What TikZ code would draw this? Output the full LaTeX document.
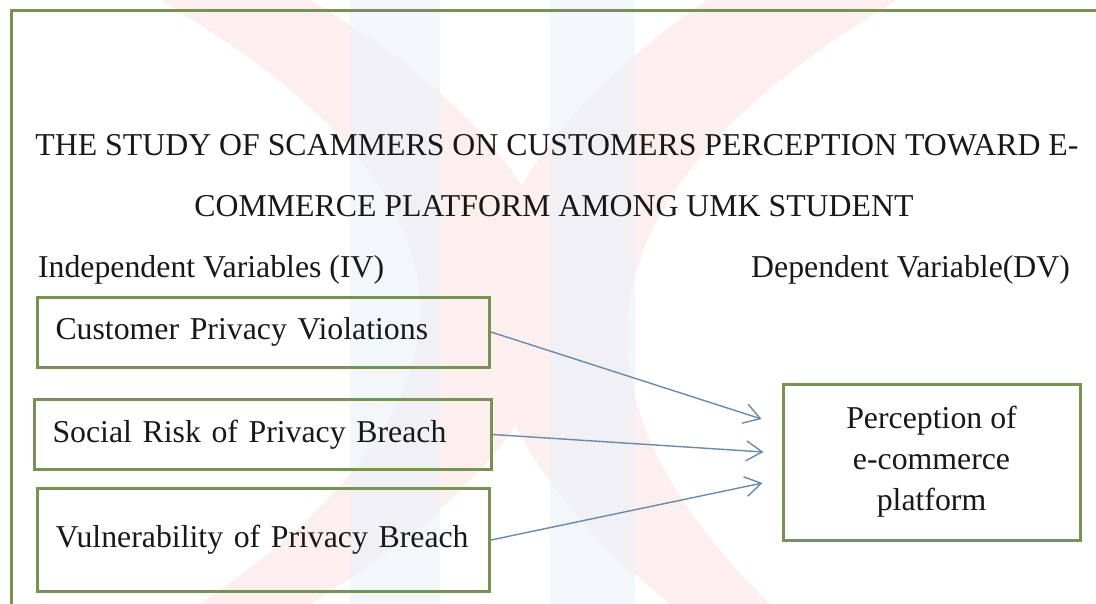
\documentclass[tikz,border=0pt]{standalone}
\usepackage{fontspec}
\setmainfont{Liberation Serif}
\usetikzlibrary{positioning,arrows.meta,calc}

\definecolor{framegreen}{RGB}{118,146,84}
\definecolor{linkblue}{RGB}{104,138,172}
\definecolor{markpink}{RGB}{253,239,238}
\definecolor{markblue}{RGB}{236,243,248}
\definecolor{inkgray}{RGB}{24,24,24}

\begin{document}
\begin{tikzpicture}[
    x=0.5pt, y=-0.5pt,
    font=\fontsize{15.9}{20}\selectfont,
    text=inkgray,
    ivbox/.style={
        draw=framegreen,
        line width=1.5pt,
        anchor=west,
        text width=208pt,
        inner xsep=9pt,
        minimum height=35pt,
        align=left
    },
    dvbox/.style={
        draw=framegreen,
        line width=1.5pt,
        minimum width=148.5pt,
        minimum height=78pt,
        align=center
    },
    link/.style={-{Straight Barb[length=8pt, width=10pt]}, draw=linkblue, line width=0.7pt},
    heading/.style={anchor=base}
]
\useasboundingbox (0,0) rectangle (1096,604);
\clip (0,0) rectangle (1096,604);

% faint logo behind everything: two arcs and two bars
\fill[markpink] (160,0) .. controls (500,200) and (500,400) .. (200,604)
    -- (310,604) .. controls (640,400) and (640,200) .. (310,0) -- cycle;
\fill[markpink] (707,0) .. controls (420,200) and (420,400) .. (670,604)
    -- (770,604) .. controls (562,400) and (562,200) .. (897,0) -- cycle;
\fill[markblue, opacity=0.7] (350,0) rectangle (440,604);
\fill[markblue, opacity=0.7] (550,0) rectangle (635,604);

% outer frame (runs off the page)
\draw[framegreen, line width=1.5pt] (1110,11) -| (11,620);

% ------------------------------------------------------------
% headings
% ------------------------------------------------------------
\node[heading] (title1) at (557,156) {THE STUDY OF SCAMMERS ON CUSTOMERS PERCEPTION TOWARD E-};
\node[heading] (title2) at (554,217) {COMMERCE PLATFORM AMONG UMK STUDENT};
\node[heading, anchor=base west] (ivlab) at (31,277) {Independent Variables (IV)};
\node[heading, anchor=base east] (dvlab) at (1077,277) {Dependent Variable(DV)};

% ------------------------------------------------------------
% variables
% ------------------------------------------------------------
\node[ivbox] (privacy)  at (36,332)   {Customer Privacy Violations};
\node[ivbox, text width=210.5pt] (social) at (33,434.5) {Social Risk of Privacy Breach};
\node[ivbox, minimum height=51.5pt] (vulner) at (36,540) {Vulnerability of Privacy Breach};

\node[dvbox, font=\fontsize{15.9}{20.5}\selectfont] (percep) at (931.5,462)
    {Perception of\\e-commerce\\platform};

% arrow ends stop short of the box
\coordinate (tip1) at ($(percep.west)+(-20,-43)$);
\coordinate (tip2) at ($(percep.west)+(-18,-10)$);
\coordinate (tip3) at ($(percep.west)+(-19,21)$);

\draw[link] (privacy.east) -- (tip1);
\draw[link] (social.east)  -- (tip2);
\draw[link] (vulner.east)  -- (tip3);

\end{tikzpicture}
\end{document}
